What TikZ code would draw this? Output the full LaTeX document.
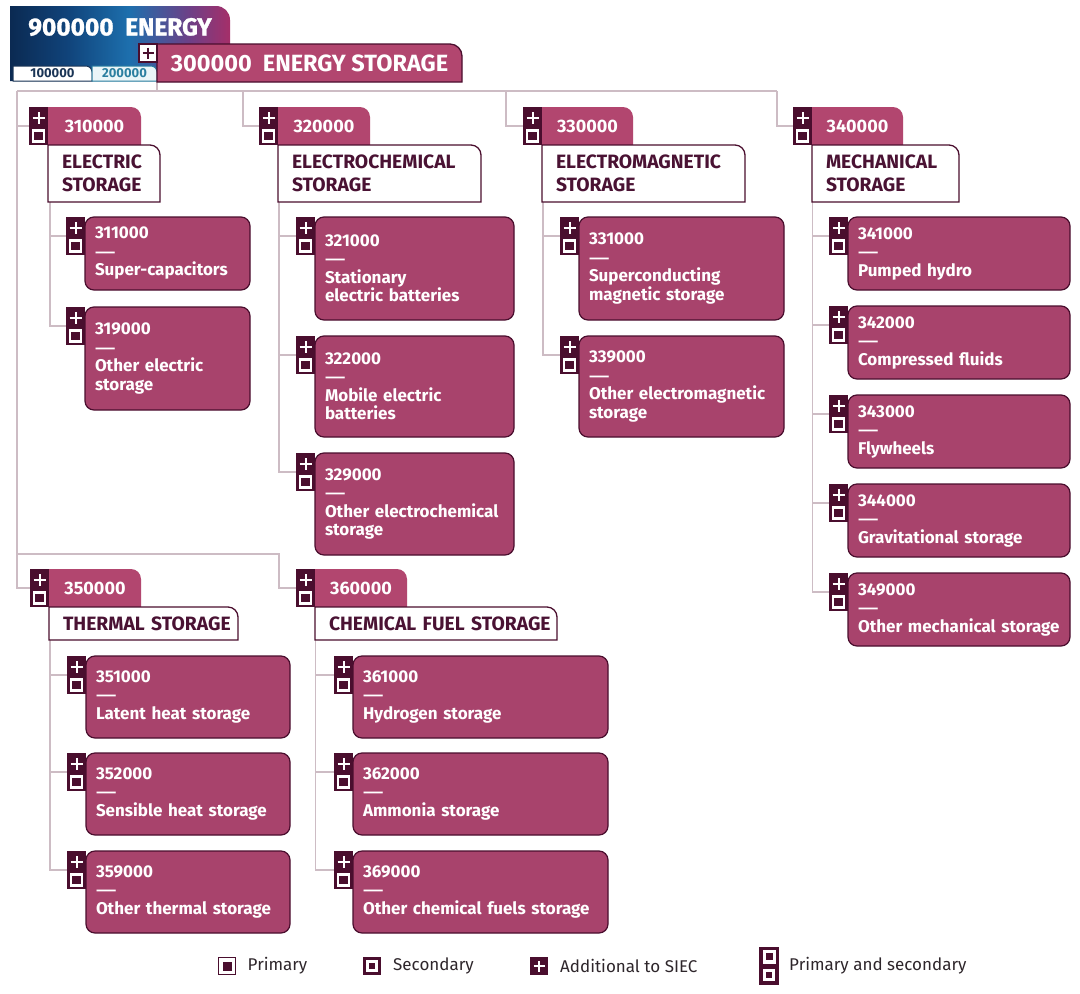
\documentclass[tikz,border=0pt]{standalone}
\usepackage{fontspec}
\setmainfont{Fira Sans}
\usetikzlibrary{calc}
\definecolor{leafc}{HTML}{A8436C}
\definecolor{tabc}{HTML}{B2466F}
\definecolor{dkc}{HTML}{4A0E2E}
\definecolor{cattext}{HTML}{4A1233}
\definecolor{linec}{HTML}{CDBCC4}
\definecolor{legtext}{HTML}{2E262B}
\definecolor{navyA}{HTML}{0B2A52}
\definecolor{navyM}{HTML}{10437A}
\definecolor{blueB}{HTML}{1D6FAD}
\definecolor{purpC}{HTML}{6F3F86}
\definecolor{magD}{HTML}{A52F69}
\definecolor{tabnavy}{HTML}{1B3556}
\definecolor{tabteal}{HTML}{2B7FA0}
\definecolor{tablight}{HTML}{EAF5F8}
\pgfdeclarehorizontalshading{energyshade}{100bp}{color(0bp)=(navyA); color(25bp)=(navyA); color(38bp)=(navyM); color(52bp)=(blueB); color(66bp)=(purpC); color(75bp)=(magD); color(100bp)=(magD)}
\pgfdeclarelayer{paper}
\pgfdeclarelayer{lines}
\pgfdeclarelayer{bg}
\pgfsetlayers{paper,lines,bg,main}
\newcommand\fLeaf{\fontsize{17}{18.5}\selectfont\bfseries}
\newcommand\fCat{\fontsize{19.3}{23}\selectfont\bfseries}
\newcommand\fTab{\fontsize{18}{20}\selectfont\bfseries}
\newcommand\fRoot{\fontsize{23.5}{26}\selectfont\bfseries}
\newcommand\fHead{\fontsize{24.5}{27}\selectfont\bfseries\addfontfeature{FakeBold=1.2}}
\newcommand\fSmall{\fontsize{13}{15}\selectfont\bfseries}
\newcommand\fLeg{\fontsize{17}{20}\selectfont}
\newcommand\dsh{\scalebox{1.5}[0.85]{—}}
% top-right rounded shape behind a node: node, options, radius
\newcommand\trshape[3]{%
  \path[#2] (#1.south west) -- (#1.north west) -- ([xshift=-#3pt]#1.north east)
    .. controls ([xshift={-0.45*#3pt}]#1.north east) and ([yshift={-0.45*#3pt}]#1.north east)
    .. ([yshift=-#3pt]#1.north east) -- (#1.south east) -- cycle;}
\newcommand\leafbox[7]{%
  \node[leaf, minimum width=#4pt, text width=#5pt, minimum height=#6pt] (l#1) at (#2,#3) {#7};
  \node[icon] (i#1) at (l#1.north west) {};}
\tikzset{
  conn/.style={draw=linec, line width=1.3pt},
  leaf/.style={draw=dkc, line width=1.2pt, fill=leafc, rounded corners=9pt, anchor=north west,
    align=left, inner xsep=10pt, inner ysep=0pt, outer sep=0pt, text=white, font=\fLeaf},
  icon/.style={fill=dkc, minimum width=19pt, minimum height=38pt, inner sep=0pt, outer sep=0pt,
    anchor=north east, path picture={
      \draw[white, line width=2pt] ([yshift=-5pt]path picture bounding box.north) -- ([yshift=-17pt]path picture bounding box.north);
      \draw[white, line width=2pt] ([xshift=-6pt,yshift=-11pt]path picture bounding box.north) -- ([xshift=6pt,yshift=-11pt]path picture bounding box.north);
      \draw[white, line width=2.2pt] ([xshift=-5.5pt,yshift=-23.5pt]path picture bounding box.north) rectangle ([xshift=5.5pt,yshift=-34.5pt]path picture bounding box.north);
    }},
  tabnode/.style={anchor=north west, minimum height=38pt, inner sep=0pt, outer sep=0pt, text=white, font=\fTab},
  catnode/.style={anchor=north west, align=left, inner xsep=14pt, inner ysep=0pt, outer sep=0pt, text=cattext, font=\fCat},
  catfill/.style={fill=white, draw=dkc, line width=1.3pt},
  plusicon/.style={fill=white, draw=dkc, line width=1.2pt, minimum width=18pt, minimum height=18pt, inner sep=0pt, outer sep=0pt,
    anchor=north east, path picture={
      \draw[dkc, line width=2pt] ([yshift=-3.5pt]path picture bounding box.north) -- ([yshift=3.5pt]path picture bounding box.south);
      \draw[dkc, line width=2pt] ([xshift=3.5pt]path picture bounding box.west) -- ([xshift=-3.5pt]path picture bounding box.east);
    }},
  legprim/.style={draw=dkc, line width=1.2pt, fill=white, minimum width=17pt, minimum height=17pt, inner sep=0pt, outer sep=0pt,
    path picture={\fill[dkc] ([xshift=-4.5pt,yshift=-4.5pt]path picture bounding box.center) rectangle ([xshift=4.5pt,yshift=4.5pt]path picture bounding box.center);}},
  legsec/.style={fill=dkc, minimum width=18pt, minimum height=18pt, inner sep=0pt, outer sep=0pt,
    path picture={\draw[white, line width=2.4pt] ([xshift=-4.5pt,yshift=-4.5pt]path picture bounding box.center) rectangle ([xshift=4.5pt,yshift=4.5pt]path picture bounding box.center);}},
  legadd/.style={fill=dkc, minimum width=18pt, minimum height=18pt, inner sep=0pt, outer sep=0pt,
    path picture={
      \draw[white, line width=2.2pt] ([yshift=-5.5pt]path picture bounding box.center) -- ([yshift=5.5pt]path picture bounding box.center);
      \draw[white, line width=2.2pt] ([xshift=-5.5pt]path picture bounding box.center) -- ([xshift=5.5pt]path picture bounding box.center);}},
  legps/.style={draw=dkc, line width=1.2pt, fill=dkc, minimum width=18pt, minimum height=37pt, inner sep=0pt, outer sep=0pt,
    path picture={
      \fill[white] ([xshift=-6.5pt,yshift=-2.5pt]path picture bounding box.north) rectangle ([xshift=6.5pt,yshift=-16pt]path picture bounding box.north);
      \fill[dkc] ([xshift=-3.5pt,yshift=-5.8pt]path picture bounding box.north) rectangle ([xshift=3.5pt,yshift=-12.8pt]path picture bounding box.north);
      \draw[white, line width=2.4pt] ([xshift=-4.5pt,yshift=5pt]path picture bounding box.south) rectangle ([xshift=4.5pt,yshift=14pt]path picture bounding box.south);}},
  legtext/.style={anchor=west, inner sep=0pt, text=legtext, font=\fLeg},
}
\begin{document}
\hyphenpenalty=10000
\exhyphenpenalty=10000
\begin{tikzpicture}[x=1pt, y=-1pt]
\useasboundingbox (0,0) rectangle (1080,994);
\begin{pgfonlayer}{paper}
  \fill[white] (0,0) rectangle (1080,994);
\end{pgfonlayer}

% ---------- header ----------
\node[anchor=north west, minimum width=220pt, minimum height=42pt, inner sep=0pt, outer sep=0pt, text=white, font=\fHead] (e900) at (10,6) {900000\ \ ENERGY};
\node[anchor=north west, minimum width=79pt, minimum height=15pt, inner sep=0pt, outer sep=0pt, text=tabnavy, font=\fSmall] (t100) at (13,66) {100000};
\node[anchor=north west, minimum width=65pt, minimum height=15pt, inner sep=0pt, outer sep=0pt, text=tabteal, font=\fSmall] (t200) at (92,66) {200000};
\node[anchor=north west, minimum width=305pt, minimum height=38pt, inner sep=0pt, outer sep=0pt, text=white, font=\fRoot] (r300) at (157,44) {300000\ \ ENERGY STORAGE};
\node[plusicon] (p300) at (r300.north west) {};

% ---------- categories ----------
\node[icon] (i310) at (48,107) {};
\node[tabnode, minimum width=93pt] (t310) at (i310.north east) {310000};
\node[catnode, minimum width=112pt, text width=84pt, minimum height=57pt] (c310) at (t310.south west) {ELECTRIC\\STORAGE};

\node[icon] (i320) at (278,107) {};
\node[tabnode, minimum width=92pt] (t320) at (i320.north east) {320000};
\node[catnode, minimum width=203pt, text width=175pt, minimum height=57pt] (c320) at (t320.south west) {ELECTROCHEMICAL\\STORAGE};

\node[icon] (i330) at (542,107) {};
\node[tabnode, minimum width=91pt] (t330) at (i330.north east) {330000};
\node[catnode, minimum width=203pt, text width=175pt, minimum height=57pt] (c330) at (t330.south west) {ELECTROMAGNETIC\\STORAGE};

\node[icon] (i340) at (812,107) {};
\node[tabnode, minimum width=91pt] (t340) at (i340.north east) {340000};
\node[catnode, minimum width=147pt, text width=119pt, minimum height=57pt] (c340) at (t340.south west) {MECHANICAL\\STORAGE};

\node[icon] (i350) at (49,569) {};
\node[tabnode, minimum width=92pt] (t350) at (i350.north east) {350000};
\node[catnode, minimum width=189pt, text width=161pt, minimum height=33pt] (c350) at (t350.south west) {\mbox{THERMAL STORAGE}};

\node[icon] (i360) at (315,569) {};
\node[tabnode, minimum width=92pt] (t360) at (i360.north east) {360000};
\node[catnode, minimum width=242pt, text width=214pt, minimum height=33pt] (c360) at (t360.south west) {\mbox{CHEMICAL FUEL STORAGE}};

% ---------- leaves ----------
\leafbox{311}{85}{217}{165}{145}{73}{311000\\\dsh\\Super-capacitors}
\leafbox{319}{85}{307}{165}{145}{103}{319000\\\dsh\\Other~electric\\storage}
\leafbox{321}{315}{217}{199}{179}{103}{321000\\\dsh\\Stationary\\electric~batteries}
\leafbox{322}{315}{336}{199}{179}{101}{322000\\\dsh\\Mobile~electric\\batteries}
\leafbox{329}{315}{453}{199}{179}{102}{329000\\\dsh\\Other~electrochemical\\storage}
\leafbox{331}{579}{217}{205}{185}{103}{331000\\\dsh\\Superconducting\\magnetic~storage}
\leafbox{339}{579}{336}{205}{185}{101}{339000\\\dsh\\Other~electromagnetic\\storage}
\leafbox{341}{848}{217}{222}{202}{73}{341000\\\dsh\\Pumped~hydro}
\leafbox{342}{848}{306}{222}{202}{73}{342000\\\dsh\\Compressed~fluids}
\leafbox{343}{848}{395}{222}{202}{73}{343000\\\dsh\\Flywheels}
\leafbox{344}{848}{484}{222}{202}{73}{344000\\\dsh\\Gravitational~storage}
\leafbox{349}{848}{573}{222}{202}{73}{349000\\\dsh\\Other~mechanical~storage}
\leafbox{351}{86}{656}{204}{184}{82}{351000\\\dsh\\Latent~heat~storage}
\leafbox{352}{86}{753}{204}{184}{82}{352000\\\dsh\\Sensible~heat~storage}
\leafbox{359}{86}{851}{204}{184}{82}{359000\\\dsh\\Other~thermal~storage}
\leafbox{361}{353}{656}{255}{235}{82}{361000\\\dsh\\Hydrogen~storage}
\leafbox{362}{353}{753}{255}{235}{82}{362000\\\dsh\\Ammonia~storage}
\leafbox{369}{353}{851}{255}{235}{82}{369000\\\dsh\\Other~chemical~fuels~storage}

% ---------- legend ----------
\node[legprim] (lg1) at (227,966) {};
\node[legtext] (lg1t) at ([xshift=12pt]lg1.east) {Primary};
\node[legsec] (lg2) at (372,966) {};
\node[legtext] (lg2t) at ([xshift=12pt]lg2.east) {Secondary};
\node[legadd] (lg3) at (539,966) {};
\node[legtext] (lg3t) at ([xshift=12pt]lg3.east) {Additional to SIEC};
\node[legps] (lg4) at (769,966) {};
\node[legtext] (lg4t) at ([xshift=11pt]lg4.east) {Primary and secondary};

% ---------- shapes behind ----------
\begin{pgfonlayer}{bg}
  \shade[shading=energyshade] (e900.north west) -- ([xshift=-14pt]e900.north east)
    .. controls ([xshift=-6pt]e900.north east) and ([yshift=-6pt]e900.north east)
    .. ([yshift=-14pt]e900.north east) -- (e900.east |- t100.south) -- (e900.west |- t100.south) -- cycle;
  \trshape{t100}{fill=white, draw=tabnavy, line width=1pt}{6}
  \trshape{t200}{fill=tablight, draw=tabteal, line width=1pt}{6}
  \trshape{r300}{fill=tabc, draw=dkc, line width=1.3pt}{12}
  \foreach \k in {310,320,330,340,350,360}{
    \trshape{t\k}{fill=tabc}{10}
    \trshape{c\k}{catfill}{10}
  }
\end{pgfonlayer}

% ---------- connectors ----------
\begin{pgfonlayer}{lines}
  \coordinate (j0) at (157,91);
  \coordinate (jL) at (17,91);
  \coordinate (j2) at (243,91);
  \coordinate (j3) at (506,91);
  \coordinate (jR) at (777,91);
  \coordinate (jB) at (17,554);
  \coordinate (jB2) at (279,554);
  \draw[conn] (r300.south west) -- (j0);
  \draw[conn] (jL) -- (jR);
  \draw[conn] (jL) |- (i310.west);
  \draw[conn] (jL) |- (i350.west);
  \draw[conn] (j2) |- (i320.west);
  \draw[conn] (j3) |- (i330.west);
  \draw[conn] (jR) |- (i340.west);
  \draw[conn] (jB) -- (jB2) |- (i360.west);
  \coordinate (v31) at ([xshift=2pt]c310.south west);
  \coordinate (v32) at ([xshift=1pt]c320.south west);
  \coordinate (v33) at ([xshift=1pt]c330.south west);
  \coordinate (v34) at ([xshift=0.5pt]c340.south west);
  \coordinate (v35) at ([xshift=1pt]c350.south west);
  \coordinate (v36) at ([xshift=0.5pt]c360.south west);
  \foreach \k in {311,319} {\draw[conn] (v31) |- (i\k.west);}
  \foreach \k in {321,322,329} {\draw[conn] (v32) |- (i\k.west);}
  \foreach \k in {331,339} {\draw[conn] (v33) |- (i\k.west);}
  \foreach \k in {341,342,343,344,349} {\draw[conn] (v34) |- (i\k.west);}
  \foreach \k in {351,352,359} {\draw[conn] (v35) |- (i\k.west);}
  \foreach \k in {361,362,369} {\draw[conn] (v36) |- (i\k.west);}
\end{pgfonlayer}
\end{tikzpicture}
\end{document}
